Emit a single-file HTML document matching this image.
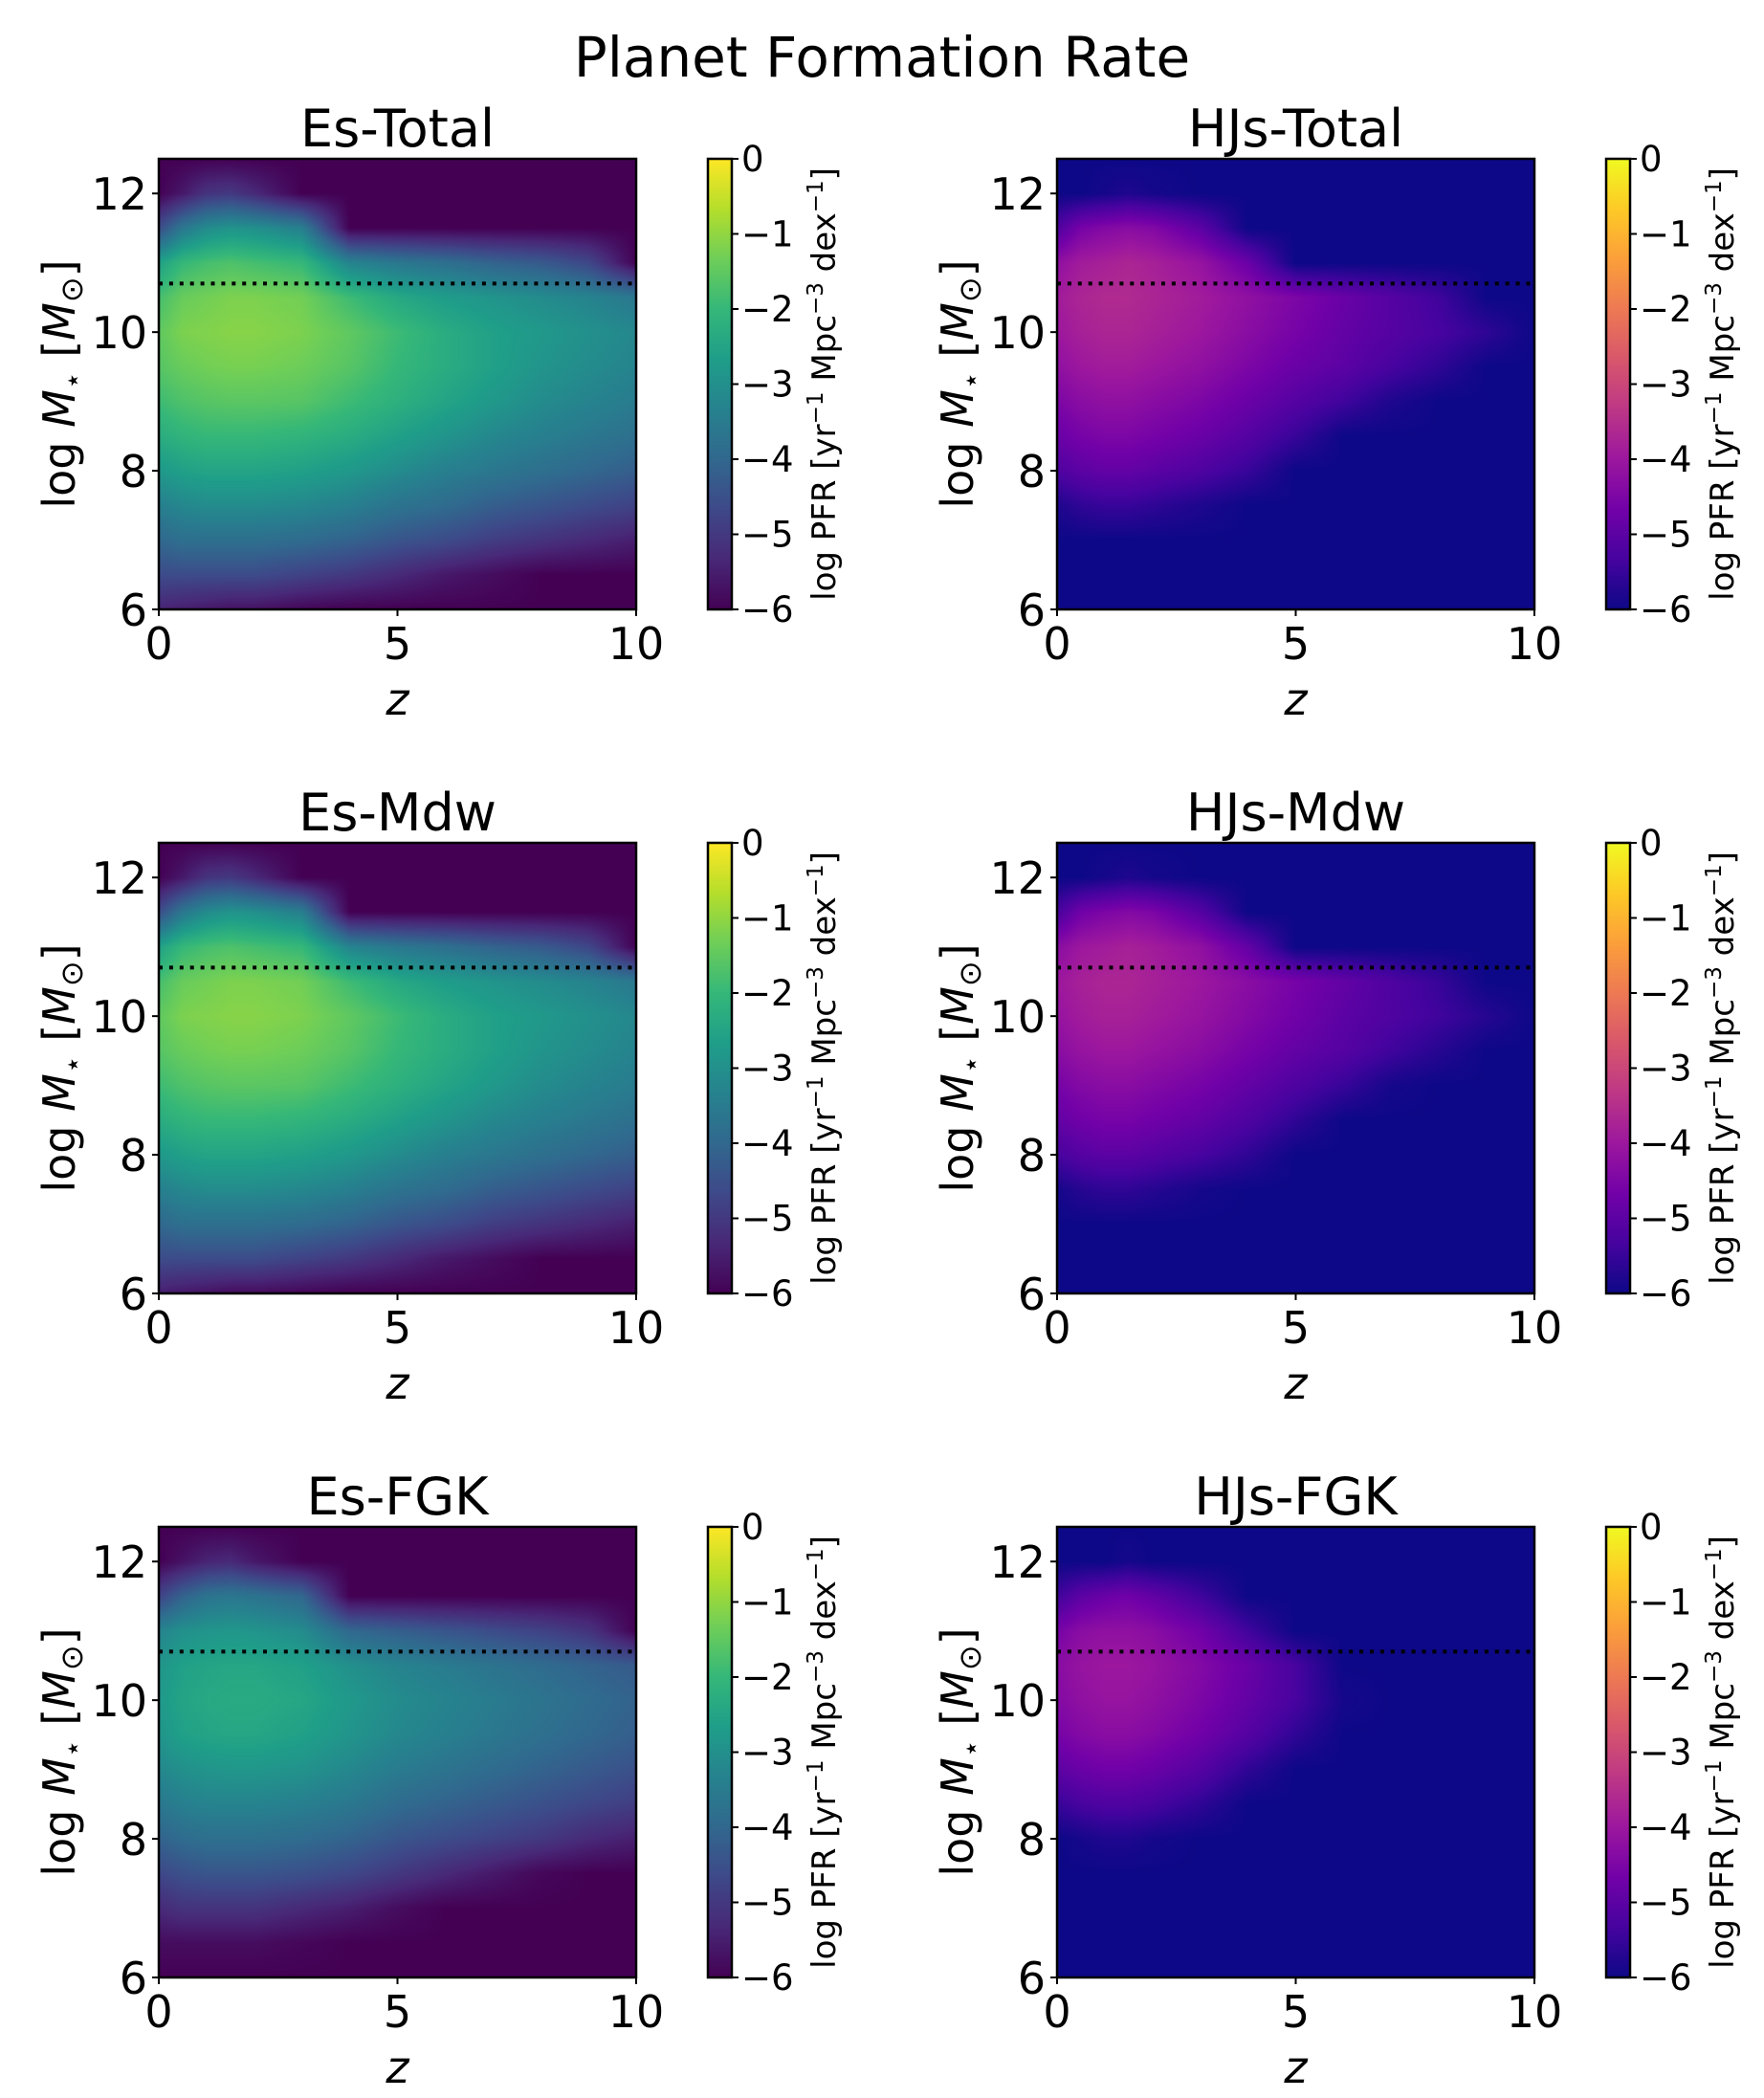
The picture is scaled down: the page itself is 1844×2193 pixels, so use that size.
<!DOCTYPE html>
<html><head><meta charset="utf-8">
<style>
body{margin:0;background:#fff;}
#root{position:relative;width:1844px;height:2193px;overflow:hidden;font-family:"DejaVu Sans","Liberation Sans",sans-serif;}
canvas{position:absolute;}
svg{position:absolute;left:0;top:0;}
</style></head>
<body>
<div id="root">
<svg id="svg" width="1844" height="2193"></svg>
</div>
<script>
// ----- data -----
const zGrid = [0,0.5,1,1.5,2,3,4,5,6,7,8,9,10];
const mGrid = [12.5,12,11.5,11,10.5,10,9.5,9,8.5,8,7.5,7,6.5,6];
const panelTitles = ["Es-Total","HJs-Total","Es-Mdw","HJs-Mdw","Es-FGK","HJs-FGK"];
const xTicks = [0,5,10];
const yTicks = [6,8,10,12];
const cbTicks = [0,-1,-2,-3,-4,-5,-6];
const dividerMass = 10.7;
const N = -6;
const esTotal = [
[N,N,N,N,N,N,N,N,N,N,N,N,N],
[N,-5.6,-5.1,-5,-5.3,N,N,N,N,N,N,N,N],
[-4.6,-3.6,-3.1,-2.9,-3,-3.4,N,N,N,N,N,N,N],
[-2.6,-2,-1.8,-1.7,-1.8,-2,-3.3,-3.6,-3.8,-4.1,-4.3,-4.7,N],
[-1.8,-1.4,-1.3,-1.2,-1.2,-1.3,-1.9,-2.4,-2.7,-2.9,-3.1,-3.3,-3.6],
[-1.5,-1.2,-1.15,-1.1,-1.1,-1.2,-1.5,-1.9,-2.3,-2.6,-2.8,-3,-3.2],
[-1.6,-1.4,-1.3,-1.25,-1.25,-1.35,-1.6,-2,-2.3,-2.6,-2.9,-3.1,-3.3],
[-1.9,-1.7,-1.6,-1.55,-1.55,-1.6,-1.9,-2.2,-2.5,-2.8,-3.1,-3.3,-3.5],
[-2.3,-2.1,-2,-2,-2,-2.1,-2.3,-2.6,-2.9,-3.2,-3.4,-3.6,-3.8],
[-2.8,-2.6,-2.5,-2.5,-2.5,-2.6,-2.8,-3.1,-3.4,-3.6,-3.8,-4,-4.2],
[-3.4,-3.2,-3.1,-3.1,-3.1,-3.2,-3.4,-3.7,-3.9,-4.2,-4.4,-4.6,-4.8],
[-4,-3.8,-3.8,-3.8,-3.8,-3.9,-4.1,-4.4,-4.6,-4.9,-5.1,-5.3,-5.5],
[-4.6,-4.6,-4.6,-4.6,-4.6,-4.8,-5,-5.3,-5.6,-5.8,N,N,N],
[-5.4,-5.5,-5.6,-5.7,-5.7,-5.9,N,N,N,N,N,N,N]];
const esMdw = [
[N,N,N,N,N,N,N,N,N,N,N,N,N],
[N,-5.6,-5.1,-5,-5.3,N,N,N,N,N,N,N,N],
[-4.6,-3.6,-3.1,-2.9,-3,-3.4,N,N,N,N,N,N,N],
[-2.6,-2,-1.8,-1.7,-1.8,-2,-3.3,-3.6,-3.8,-4.1,-4.3,-4.7,N],
[-1.8,-1.4,-1.3,-1.2,-1.2,-1.3,-1.9,-2.4,-2.7,-2.9,-3.1,-3.3,-3.6],
[-1.5,-1.2,-1.15,-1.1,-1.1,-1.2,-1.5,-1.9,-2.3,-2.6,-2.8,-3,-3.2],
[-1.6,-1.4,-1.3,-1.25,-1.25,-1.35,-1.6,-2,-2.3,-2.6,-2.9,-3.1,-3.3],
[-1.9,-1.7,-1.6,-1.55,-1.55,-1.6,-1.9,-2.2,-2.5,-2.8,-3.1,-3.3,-3.5],
[-2.3,-2.1,-2,-2,-2,-2.1,-2.3,-2.6,-2.9,-3.2,-3.4,-3.6,-3.8],
[-2.8,-2.6,-2.5,-2.5,-2.5,-2.6,-2.8,-3.1,-3.4,-3.6,-3.8,-4,-4.2],
[-3.4,-3.2,-3.1,-3.1,-3.1,-3.2,-3.4,-3.7,-3.9,-4.2,-4.4,-4.6,-4.8],
[-4,-3.8,-3.8,-3.8,-3.8,-3.9,-4.1,-4.4,-4.6,-4.9,-5.1,-5.3,-5.5],
[-4.6,-4.6,-4.6,-4.6,-4.6,-4.8,-5,-5.3,-5.6,-5.8,N,N,N],
[-5.5,-5.6,-5.7,-5.8,-5.8,-5.9,N,N,N,N,N,N,N]];
const esFgk = [
[N,N,N,N,N,N,N,N,N,N,N,N,N],
[N,-5.7,-5.4,-5.3,-5.6,N,N,N,N,N,N,N,N],
[-4.8,-4.1,-3.7,-3.6,-3.7,-4,N,N,N,N,N,N,N],
[-3.3,-3,-2.9,-2.85,-2.9,-3.1,-4,-4.2,-4.4,-4.6,-4.8,-5.1,N],
[-2.9,-2.6,-2.5,-2.45,-2.45,-2.6,-3,-3.3,-3.5,-3.7,-3.9,-4.1,-4.3],
[-2.8,-2.5,-2.4,-2.35,-2.35,-2.45,-2.8,-3.1,-3.3,-3.5,-3.7,-3.9,-4.1],
[-2.9,-2.6,-2.5,-2.45,-2.45,-2.6,-2.9,-3.2,-3.4,-3.6,-3.8,-4,-4.2],
[-3.2,-3,-2.9,-2.85,-2.85,-2.95,-3.2,-3.5,-3.7,-3.9,-4.1,-4.3,-4.5],
[-3.6,-3.4,-3.3,-3.3,-3.3,-3.4,-3.6,-3.9,-4.1,-4.3,-4.5,-4.7,-4.9],
[-4.1,-3.9,-3.8,-3.8,-3.8,-3.9,-4.1,-4.4,-4.6,-4.8,-5,-5.3,-5.5],
[-4.7,-4.5,-4.4,-4.4,-4.4,-4.5,-4.7,-5,-5.3,-5.6,-5.9,N,N],
[-5.3,-5.1,-5.1,-5.1,-5.1,-5.3,-5.5,-5.8,N,N,N,N,N],
[-5.8,-5.8,-5.8,-5.8,-5.8,-5.9,N,N,N,N,N,N,N],
[N,N,N,N,N,N,N,N,N,N,N,N,N]];
const hjTotal = [
[N,N,N,N,N,N,N,N,N,N,N,N,N],
[N,N,-5.9,-5.8,-5.9,N,N,N,N,N,N,N,N],
[-5.2,-4.6,-4.4,-4.3,-4.4,-5,N,N,N,N,N,N,N],
[-4.2,-3.9,-3.8,-3.7,-3.8,-4.1,-4.8,N,N,N,N,N,N],
[-3.9,-3.7,-3.6,-3.6,-3.7,-3.9,-4.2,-4.5,-4.8,-5.1,-5.4,N,N],
[-4,-3.8,-3.7,-3.7,-3.8,-4,-4.3,-4.6,-4.9,-5.1,-5.3,-5.6,N],
[-4.2,-4,-3.9,-3.9,-4,-4.2,-4.5,-4.8,-5,-5.3,-5.6,N,N],
[-4.5,-4.3,-4.2,-4.2,-4.3,-4.5,-4.8,-5.1,-5.4,-5.8,N,N,N],
[-4.8,-4.6,-4.5,-4.5,-4.6,-4.8,-5.1,-5.5,N,N,N,N,N],
[-5.2,-5,-4.9,-4.9,-5,-5.2,-5.5,N,N,N,N,N,N],
[-5.8,-5.6,-5.5,-5.5,-5.6,-5.8,N,N,N,N,N,N,N],
[N,N,N,N,N,N,N,N,N,N,N,N,N],
[N,N,N,N,N,N,N,N,N,N,N,N,N],
[N,N,N,N,N,N,N,N,N,N,N,N,N]];
const hjMdw = [
[N,N,N,N,N,N,N,N,N,N,N,N,N],
[N,N,-5.9,-5.8,-5.9,N,N,N,N,N,N,N,N],
[-5.3,-4.7,-4.5,-4.4,-4.5,-5.1,N,N,N,N,N,N,N],
[-4.3,-4,-3.9,-3.8,-3.9,-4.2,-4.9,N,N,N,N,N,N],
[-4,-3.8,-3.7,-3.7,-3.8,-4,-4.3,-4.6,-4.9,-5.2,-5.5,N,N],
[-4.1,-3.9,-3.8,-3.8,-3.9,-4.1,-4.4,-4.7,-5,-5.2,-5.4,-5.7,N],
[-4.3,-4.1,-4,-4,-4.1,-4.3,-4.6,-4.9,-5.1,-5.4,-5.7,N,N],
[-4.6,-4.4,-4.3,-4.3,-4.4,-4.6,-4.9,-5.2,-5.5,-5.9,N,N,N],
[-4.9,-4.7,-4.6,-4.6,-4.7,-4.9,-5.2,-5.6,N,N,N,N,N],
[-5.3,-5.1,-5,-5,-5.1,-5.3,-5.6,N,N,N,N,N,N],
[-5.9,-5.7,-5.6,-5.6,-5.7,-5.9,N,N,N,N,N,N,N],
[N,N,N,N,N,N,N,N,N,N,N,N,N],
[N,N,N,N,N,N,N,N,N,N,N,N,N],
[N,N,N,N,N,N,N,N,N,N,N,N,N]];
const hjFgk = [
[N,N,N,N,N,N,N,N,N,N,N,N,N],
[N,N,N,-5.9,N,N,N,N,N,N,N,N,N],
[-5.4,-5,-4.8,-4.7,-4.9,-5.4,N,N,N,N,N,N,N],
[-4.6,-4.3,-4.2,-4.2,-4.3,-4.7,-5.4,N,N,N,N,N,N],
[-4.3,-4.1,-4,-4,-4.1,-4.4,-4.8,-5.3,N,N,N,N,N],
[-4.4,-4.2,-4.1,-4.1,-4.2,-4.5,-4.9,-5.3,-5.9,N,N,N,N],
[-4.6,-4.4,-4.3,-4.3,-4.4,-4.7,-5.1,-5.6,N,N,N,N,N],
[-5,-4.8,-4.7,-4.7,-4.8,-5.1,-5.6,N,N,N,N,N,N],
[-5.5,-5.3,-5.2,-5.2,-5.3,-5.6,N,N,N,N,N,N,N],
[N,-5.9,-5.8,-5.8,-5.9,N,N,N,N,N,N,N,N],
[N,N,N,N,N,N,N,N,N,N,N,N,N],
[N,N,N,N,N,N,N,N,N,N,N,N,N],
[N,N,N,N,N,N,N,N,N,N,N,N,N],
[N,N,N,N,N,N,N,N,N,N,N,N,N]];
const panelData = [esTotal,hjTotal,esMdw,hjMdw,esFgk,hjFgk];

// ----- colormaps -----
const viridis=["#440154","#482878","#3e4989","#31688e","#26828e","#1f9e89","#35b779","#6ece58","#b5de2b","#fde725"];
const plasma=["#0d0887","#46039f","#7201a8","#9c179e","#bd3786","#d8576b","#ed7953","#fb9f3a","#fdca26","#f0f921"];
function hex(c){return [parseInt(c.substr(1,2),16),parseInt(c.substr(3,2),16),parseInt(c.substr(5,2),16)];}
function cmap(stops,t){t=Math.max(0,Math.min(1,t));const n=stops.length-1;const f=t*n;const i=Math.min(n-1,Math.floor(f));const u=f-i;const a=hex(stops[i]),b=hex(stops[i+1]);return [a[0]+(b[0]-a[0])*u,a[1]+(b[1]-a[1])*u,a[2]+(b[2]-a[2])*u];}

// ----- layout -----
const colX=[166,1105], rowY=[166,881,1596], AW=499, AH=471;
const cbOff=574, cbW=25;
const ZMIN=0,ZMAX=10,MMIN=6,MMAX=12.5,VMIN=-6,VMAX=0;
const svg=document.getElementById('svg');
const NS="http://www.w3.org/2000/svg";
function mk(tag,attrs,parent){const e=document.createElementNS(NS,tag);for(const k in attrs)e.setAttribute(k,attrs[k]);(parent||svg).appendChild(e);return e;}

function interpIdx(grid,v,desc){
  for(let i=0;i<grid.length-1;i++){const a=grid[i],b=grid[i+1];
    if(desc? (v<=a&&v>=b):(v>=a&&v<=b)){return [i,(v-a)/(b-a)];}}
  return [grid.length-2,1];
}

const title=mk('text',{x:922,y:80,'text-anchor':'middle','font-size':58});
title.textContent="Planet Formation Rate";



for(let p=0;p<6;p++){
  const col=p%2,row=Math.floor(p/2);
  const X0=colX[col],Y0=rowY[row];
  const stops=col===0?viridis:plasma;
  const data=panelData[p];
  const sx=z=>X0+(z-ZMIN)/(ZMAX-ZMIN)*AW;
  const sy=m=>Y0+AH-(m-MMIN)/(MMAX-MMIN)*AH;
  const cv=document.createElement('canvas');
  cv.width=AW;cv.height=AH;cv.style.left=X0+'px';cv.style.top=Y0+'px';
  
  
  document.getElementById('root').insertBefore(cv,svg);
  const ctx=cv.getContext('2d');const img=ctx.createImageData(AW,AH);
  for(let py=0;py<AH;py++){
    const m=MMAX-(py+0.5)/AH*(MMAX-MMIN);
    const [ri,rv]=interpIdx(mGrid,m,true);
    for(let px=0;px<AW;px++){
      const z=ZMIN+(px+0.5)/AW*(ZMAX-ZMIN);
      const [ci,cu]=interpIdx(zGrid,z,false);
      const a=data[ri][ci],b=data[ri][ci+1],c=data[ri+1][ci],d=data[ri+1][ci+1];
      const v=(a*(1-cu)+b*cu)*(1-rv)+(c*(1-cu)+d*cu)*rv;
      const rgb=cmap(stops,(v-VMIN)/(VMAX-VMIN));
      const o=(py*AW+px)*4;img.data[o]=rgb[0];img.data[o+1]=rgb[1];img.data[o+2]=rgb[2];img.data[o+3]=255;
    }
  }
  ctx.putImageData(img,0,0);
  const g=mk('g',{});
  
  
  const dl=mk('line',{x1:sx(0),x2:sx(10),y1:sy(dividerMass),y2:sy(dividerMass),stroke:'#000','stroke-width':4,'stroke-dasharray':'4 6.9'},g);
  
  
  const fr=mk('rect',{x:X0,y:Y0,width:AW,height:AH,fill:'none',stroke:'#000','stroke-width':2.5},g);
  
  
  const pt=mk('text',{x:X0+AW/2,y:Y0-13,'text-anchor':'middle','font-size':54},g);
  pt.textContent=panelTitles[p];
  
  
  xTicks.forEach(t=>{
    mk('line',{x1:sx(t),x2:sx(t),y1:Y0+AH,y2:Y0+AH+7,stroke:'#000','stroke-width':2},g);
    const tl=mk('text',{x:sx(t),y:Y0+AH+52,'text-anchor':'middle','font-size':46},g);
    tl.textContent=t;
    
    
  });
  yTicks.forEach(t=>{
    mk('line',{x1:X0-7,x2:X0,y1:sy(t),y2:sy(t),stroke:'#000','stroke-width':2},g);
    const tl=mk('text',{x:X0-12,y:sy(t)+17,'text-anchor':'end','font-size':46},g);
    tl.textContent=t;
    
    
  });
  const xl=mk('text',{x:X0+AW/2,y:Y0+AH+110,'text-anchor':'middle','font-size':46,'font-style':'italic'},g);
  xl.textContent='z';
  
  
  const yl=mk('text',{x:0,y:0,'text-anchor':'middle','font-size':46,transform:`translate(${X0-88},${Y0+AH/2}) rotate(-90)`},g);
  yl.innerHTML='log <tspan font-style="italic">M</tspan><tspan font-size="30" dy="8">⋆</tspan><tspan dy="-8"> [</tspan><tspan font-style="italic">M</tspan><tspan font-size="32" dy="8">⊙</tspan><tspan dy="-8">]</tspan>';
  
  
  const CX=X0+cbOff;
  const gid='grad'+p;
  const lg=mk('linearGradient',{id:gid,x1:0,y1:1,x2:0,y2:0},g);
  stops.forEach((c,i)=>mk('stop',{offset:i/(stops.length-1),'stop-color':c},lg));
  const cb=mk('rect',{x:CX,y:Y0,width:cbW,height:AH,fill:`url(#${gid})`,stroke:'#000','stroke-width':2.5},g);
  
  
  cbTicks.forEach(t=>{
    const yy=Y0+AH-(t-VMIN)/(VMAX-VMIN)*AH;
    mk('line',{x1:CX+cbW,x2:CX+cbW+7,y1:yy,y2:yy,stroke:'#000','stroke-width':2},g);
    const tl=mk('text',{x:CX+cbW+10,y:yy+13,'font-size':37},g);
    tl.textContent=t===0?'0':'\u2212'+Math.abs(t);
    
    
  });
  const cl=mk('text',{x:0,y:0,'text-anchor':'middle','font-size':34,transform:`translate(${CX+133},${Y0+AH/2}) rotate(-90)`},g);
  cl.innerHTML='log PFR [yr<tspan font-size="23" dy="-13">−1</tspan><tspan dy="13"> Mpc</tspan><tspan font-size="23" dy="-13">−3</tspan><tspan dy="13"> dex</tspan><tspan font-size="23" dy="-13">−1</tspan><tspan dy="13">]</tspan>';
  
  
}
</script>
</body></html>
